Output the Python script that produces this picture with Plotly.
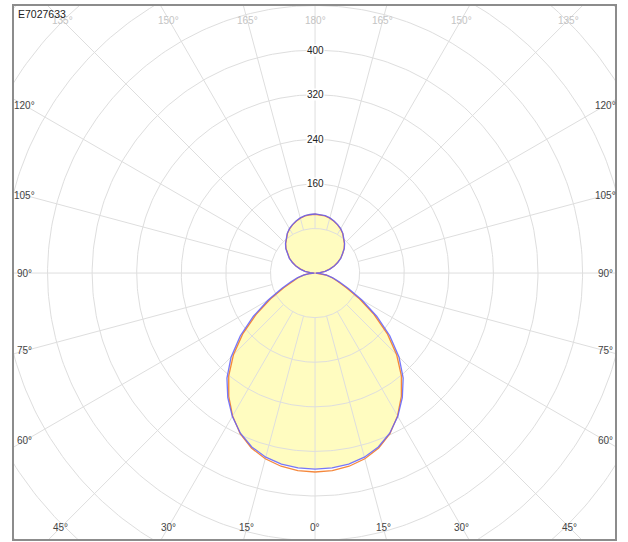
import numpy as np
import plotly.graph_objects as go

# luminous intensity (cd) vs gamma angle, two C-planes
gamma = list(range(0, 185, 5))
i_c0 = [352, 351, 348, 342, 332, 317, 297, 273, 246, 213, 175, 135, 97, 66, 46, 33, 21, 10, 1,
        9, 18.5, 27.5, 36.5, 45, 53.5, 61, 68.5, 75, 81, 87, 92, 96, 99.5, 102.5, 104.5, 105.5, 106]
i_c90 = [357, 356, 352, 345, 334, 318, 296, 270, 241, 207, 169, 129, 92, 62, 43, 31, 20, 9, 1,
         9, 18, 27, 36, 44.5, 53, 60.5, 68, 74.5, 80.5, 86.5, 91.5, 95.5, 99, 102, 104, 105, 105.5]

ring_values = [80, 160, 240, 320, 400, 480, 560, 640, 720, 800]
ring_labels = [160, 240, 320, 400]
spoke_angles = list(range(0, 360, 15))
edge_labels = [0, 15, 30, 45, 60, 75, 90, 105, 120, 135, 150, 165, 180]
title_text = "E7027633"

GRID = "#dedede"


def to_xy(angles, radii):
    a = np.radians(np.asarray(angles, dtype=float))
    r = np.asarray(radii, dtype=float)
    return r * np.sin(a), -r * np.cos(a)


def full_curve(values):
    angles = gamma + [360 - g for g in reversed(gamma[:-1])]
    radii = values + list(reversed(values[:-1]))
    return to_xy(angles, radii)


fig = go.Figure()

# filled distribution
fx, fy = full_curve(i_c0)
fig.add_trace(go.Scatter(x=fx, y=fy, mode="lines", fill="toself",
                         fillcolor="rgb(255,252,192)", line=dict(width=0), hoverinfo="skip"))

# rings
circ = np.linspace(0, 360, 361)
for rv in ring_values:
    cx, cy = to_xy(circ, [rv] * len(circ))
    fig.add_trace(go.Scatter(x=cx, y=cy, mode="lines", line=dict(color=GRID, width=1),
                             hoverinfo="skip"))

# spokes
sx, sy = [], []
for a in spoke_angles:
    x0, y0 = to_xy([a, a], [ring_values[0], 1000])
    sx += list(x0) + [None]
    sy += list(y0) + [None]
fig.add_trace(go.Scatter(x=sx, y=sy, mode="lines", line=dict(color=GRID, width=1), hoverinfo="skip"))

# curves
ox, oy = full_curve(i_c90)
fig.add_trace(go.Scatter(x=ox, y=oy, mode="lines", line=dict(color="#f5883c", width=1.3)))
fig.add_trace(go.Scatter(x=fx, y=fy, mode="lines", line=dict(color="#6060ff", width=1.3),
                         opacity=0.85))

# radial labels
for rv in ring_labels:
    fig.add_annotation(x=0, y=rv, text=str(rv), showarrow=False, bgcolor="white",
                       font=dict(family="Liberation Sans", size=10, color="#222"), borderpad=0)

# angle labels along the frame
XL, YB, YT = 521, 456, 454
for g in edge_labels:
    sides = [1] if g in (0, 180) else [1, -1]
    for s in sides:
        dx = np.sin(np.radians(g)) * s
        dy = -np.cos(np.radians(g))
        t = np.inf
        if abs(dx) > 1e-9:
            t = min(t, XL / abs(dx))
        if abs(dy) > 1e-9:
            t = min(t, (YB if dy < 0 else YT) / abs(dy))
        col = "#c4c4c4" if g >= 135 else "#444"
        fig.add_annotation(x=t * dx, y=t * dy, text=f"{g}°", showarrow=False,
                           font=dict(family="Liberation Sans", size=10, color=col))

fig.add_annotation(x=0, y=1, xref="paper", yref="paper", xanchor="left", yanchor="top",
                   xshift=3, yshift=-1, text=title_text, showarrow=False,
                   font=dict(family="Liberation Sans", size=10.5, color="#222"))

fig.add_shape(type="rect", xref="paper", yref="paper", x0=0, y0=0, x1=1, y1=1,
              line=dict(color="#8c8c8c", width=2))

fig.update_layout(
    width=628, height=542,
    margin=dict(l=13, r=12, t=5, b=2),
    paper_bgcolor="white", plot_bgcolor="white",
    showlegend=False,
    xaxis=dict(range=[-542, 540], visible=False, fixedrange=True),
    yaxis=dict(range=[-479, 481], visible=False, fixedrange=True),
)

fig.write_html("out.html", config={"displayModeBar": False},
               post_script="document.body.style.margin='0';")
